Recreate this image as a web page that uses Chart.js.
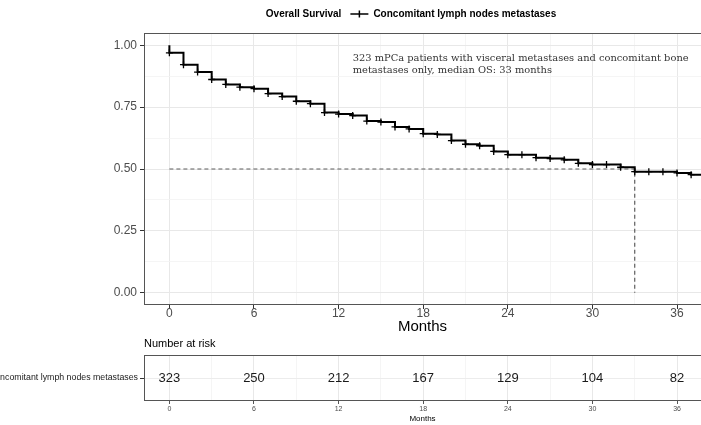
<!DOCTYPE html>
<html><head><meta charset="utf-8">
<script src="https://cdn.jsdelivr.net/npm/chart.js@4/dist/chart.umd.min.js"></script>
<style>
html,body{margin:0;padding:0;background:#fff;}
#wrap{position:relative;width:701px;height:425px;overflow:hidden;background:#fff;}
#c1{position:absolute;left:0;top:0;}
#c2{position:absolute;left:0;top:337px;}
</style></head><body>
<div id="wrap"><canvas id="c1" width="701" height="337"></canvas><canvas id="c2" width="701" height="88"></canvas></div>
<script>
// ---- data ----
const months   = [0,1,2,3,4,5,6,7,8,9,10,11,12,13,14,15,16,17,18,19,20,21,22,23,24,25,26,27,28,29,30,31,32,33,34,35,36,37];
const survival = [0.970,0.922,0.892,0.862,0.842,0.831,0.825,0.805,0.793,0.774,0.764,0.728,0.722,0.716,0.694,0.690,0.670,0.662,0.643,0.640,0.615,0.600,0.594,0.571,0.558,0.558,0.546,0.542,0.537,0.523,0.518,0.518,0.507,0.489,0.489,0.489,0.484,0.477];
const censorMonths = months;
const riskTimes  = [0,6,12,18,24,30,36];
const riskCounts = [323,250,212,167,129,104,82];
const xMajorTicks = [0,6,12,18,24,30,36];
const xMinorTicks = [3,9,15,21,27,33];
const yMajorTicks = [0,0.25,0.5,0.75,1];
const yMinorTicks = [0.125,0.375,0.625,0.875];
const medianOS = 33;
const groupName = 'Concomitant lymph nodes metastases';
const legendTitle = 'Overall Survival';
const noteLines = ['323 mPCa patients with visceral metastases and concomitant bone','metastases only, median OS: 33 months'];
const xLabel = 'Months';
const riskTitle = 'Number at risk';

// ---- helpers ----
const X_MIN = -1.8, X_MAX = 37.7;
const SANS = '"Liberation Sans", Arial, Helvetica, sans-serif';
const isMajorX = v => xMajorTicks.includes(v);
const isMajorY = v => yMajorTicks.some(t => Math.abs(t - v) < 1e-9);
const allX = [...xMajorTicks, ...xMinorTicks].sort((a,b)=>a-b);
const allY = [...yMajorTicks, ...yMinorTicks].sort((a,b)=>a-b);

const curve = [{x:0,y:1}].concat(months.map((m,i)=>({x:m,y:survival[i]})));
curve.push({x:X_MAX+1, y:survival[survival.length-1]});
const censor = censorMonths.map(m => ({x:m, y:survival[months.indexOf(m)]}));

const noPadX = s => { s.paddingLeft = 0; s.paddingRight = 0; };
const noPadY = s => { s.paddingTop = 0; s.paddingBottom = 0; };

const panelPlugin = {
  id:'panel',
  afterDatasetsDraw(chart){
    const {ctx, chartArea:a} = chart;
    ctx.save();
    ctx.strokeStyle = '#555';
    ctx.lineWidth = 1;
    ctx.strokeRect(a.left+0.5, a.top+0.5, a.right-a.left, a.bottom-a.top-1);
    ctx.restore();
  }
};

const decoPlugin = {
  id:'deco',
  afterDraw(chart){
    const {ctx} = chart;
    const xs = chart.scales.x, ys = chart.scales.y;
    ctx.save();
    // legend
    ctx.font = 'bold 10px ' + SANS;
    ctx.fillStyle = '#000';
    ctx.textBaseline = 'middle';
    const w1 = ctx.measureText(legendTitle).width;
    const w2 = ctx.measureText(groupName).width;
    const symW = 18, gap1 = 9, gap2 = 5;
    const total = w1 + gap1 + symW + gap2 + w2;
    let x = 411 - total/2;
    const y = 14;
    ctx.textAlign = 'left';
    ctx.fillText(legendTitle, x, y);
    x += w1 + gap1;
    ctx.strokeStyle = '#000';
    ctx.lineWidth = 1.5;
    ctx.beginPath();
    ctx.moveTo(x, y); ctx.lineTo(x+symW, y);
    ctx.moveTo(x+symW/2, y-3.5); ctx.lineTo(x+symW/2, y+3.5);
    ctx.stroke();
    x += symW + gap2;
    ctx.fillText(groupName, x, y);
    // note
    ctx.fillStyle = '#333';
    let size = 10;
    ctx.font = size + 'px "DejaVu Serif", serif';
    const m = ctx.measureText(noteLines[0]).width;
    size = size * 336 / m;
    ctx.font = size.toFixed(2) + 'px "DejaVu Serif", serif';
    const nx = xs.getPixelForValue(13);
    ctx.fillText(noteLines[0], nx, ys.getPixelForValue(0.947));
    ctx.fillText(noteLines[1], nx, ys.getPixelForValue(0.899));
    ctx.restore();
  }
};

new Chart(document.getElementById('c1'), {
  type:'line',
  data:{ datasets:[
    { label:'median', data:[{x:0,y:0.5},{x:medianOS,y:0.5},{x:medianOS,y:0}], borderColor:'#5f5f5f', borderWidth:1.2, borderDash:[4,3], pointRadius:0, tension:0, order:3 },
    { label:groupName, data:curve, borderColor:'#000', borderWidth:2, stepped:true, pointRadius:0, tension:0, order:2 },
    { label:'censor', type:'scatter', data:censor, pointStyle:'cross', pointRadius:3.5, borderColor:'#000', backgroundColor:'#000', borderWidth:1.3, showLine:false, order:1 }
  ]},
  options:{
    responsive:false, animation:false, devicePixelRatio:1,
    layout:{autoPadding:false, padding:{top:33,left:0,right:0,bottom:0}},
    plugins:{legend:{display:false}, tooltip:{enabled:false}},
    scales:{
      x:{
        type:'linear', min:X_MIN, max:X_MAX,
        afterBuildTicks(s){ s.ticks = allX.map(v=>({value:v})); },
        afterFit(s){ s.height = 32; noPadX(s); },
        ticks:{ autoSkip:false, maxRotation:0, padding:-3, color:'#4d4d4d', font:{family:SANS, size:12},
          callback:(v)=> isMajorX(v) ? String(v) : '' },
        grid:{ color:c=> c.tick && isMajorX(c.tick.value) ? '#e8e8e8' : '#f2f2f2',
               lineWidth:c=> c.tick && isMajorX(c.tick.value) ? 1 : 0.8,
               tickColor:c=> c.tick && isMajorX(c.tick.value) ? '#333' : 'rgba(0,0,0,0)',
               tickLength:4, drawTicks:true },
        border:{display:false},
        title:{display:true, text:xLabel, color:'#000', font:{family:SANS, size:15}, padding:{top:0,bottom:1}}
      },
      y:{
        type:'linear', min:-0.05, max:1.05,
        afterBuildTicks(s){ s.ticks = allY.map(v=>({value:v})); },
        afterFit(s){ s.width = 144; noPadY(s); },
        ticks:{ autoSkip:false, padding:3, color:'#4d4d4d', font:{family:SANS, size:12},
          callback:(v)=> isMajorY(v) ? Number(v).toFixed(2) : '' },
        grid:{ color:c=> c.tick && isMajorY(c.tick.value) ? '#e8e8e8' : '#f2f2f2',
               lineWidth:c=> c.tick && isMajorY(c.tick.value) ? 1 : 0.8,
               tickColor:c=> c.tick && isMajorY(c.tick.value) ? '#333' : 'rgba(0,0,0,0)',
               tickLength:4, drawTicks:true },
        border:{display:false}
      }
    }
  },
  plugins:[panelPlugin, decoPlugin]
});

const riskPlugin = {
  id:'risk',
  afterDatasetsDraw(chart){
    const {ctx} = chart;
    const meta = chart.getDatasetMeta(0);
    ctx.save();
    ctx.fillStyle = '#1a1a1a';
    ctx.font = '13px ' + SANS;
    ctx.textAlign = 'center';
    ctx.textBaseline = 'middle';
    meta.data.forEach((pt,i)=> ctx.fillText(String(riskCounts[i]), pt.x, pt.y+0.5));
    ctx.fillStyle = '#000';
    ctx.font = '11px ' + SANS;
    ctx.textAlign = 'left';
    ctx.fillText(riskTitle, chart.chartArea.left, 7);
    ctx.restore();
  }
};

new Chart(document.getElementById('c2'), {
  type:'scatter',
  data:{ datasets:[{ data: riskTimes.map(t=>({x:t, y:groupName})), pointRadius:0 }] },
  options:{
    responsive:false, animation:false, devicePixelRatio:1,
    layout:{autoPadding:false, padding:{top:18,left:0,right:0,bottom:0}},
    plugins:{legend:{display:false}, tooltip:{enabled:false}},
    scales:{
      x:{
        type:'linear', min:X_MIN, max:X_MAX,
        afterBuildTicks(s){ s.ticks = allX.map(v=>({value:v})); },
        afterFit(s){ s.height = 24; noPadX(s); },
        ticks:{ autoSkip:false, maxRotation:0, padding:1, color:'#4d4d4d', font:{family:SANS, size:7},
          callback:(v)=> isMajorX(v) ? String(v) : '' },
        grid:{ color:c=> c.tick && isMajorX(c.tick.value) ? '#e8e8e8' : '#f2f2f2',
               lineWidth:c=> c.tick && isMajorX(c.tick.value) ? 1 : 0.8,
               tickColor:c=> c.tick && isMajorX(c.tick.value) ? '#555' : 'rgba(0,0,0,0)',
               tickLength:3, drawTicks:true },
        border:{display:false},
        title:{display:true, text:xLabel, color:'#000', font:{family:SANS, size:8}, padding:{top:0,bottom:1}}
      },
      y:{
        type:'category', labels:[groupName], offset:true,
        afterFit(s){ s.width = 144; noPadY(s); },
        ticks:{ padding:2, color:'#1a1a1a', font:{family:SANS, size:8.8} },
        grid:{ offset:false, color:'#ececec', tickColor:'#333', tickLength:4, drawTicks:true },
        border:{display:false}
      }
    }
  },
  plugins:[panelPlugin, riskPlugin]
});
</script>
</body></html>
